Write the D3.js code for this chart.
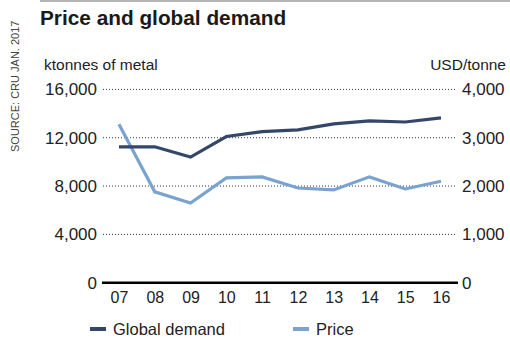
<!DOCTYPE html>
<html>
<head>
<meta charset="utf-8">
<script src="https://cdn.jsdelivr.net/npm/d3@7"></script>
<style>
  body { margin: 0; background: #fff; }
  svg { display: block; font-family: "Liberation Sans", Arial, sans-serif; }
</style>
</head>
<body>
<div id="container"></div>
<script>
const years = ['07', '08', '09', '10', '11', '12', '13', '14', '15', '16']
const demand = [11250, 11250, 10400, 12100, 12500, 12650, 13150, 13400, 13300, 13650]
const price = [3280, 1880, 1650, 2170, 2190, 1960, 1920, 2190, 1940, 2100]
const leftTicks = [0, 4000, 8000, 12000, 16000]
const rightTicks = [0, 1000, 2000, 3000, 4000]

const demandColor = '#34476a'
const priceColor = '#7aa3d0'

const width = 510
const height = 338

const svg = d3.select('#container')
    .append('svg')
    .attr('width', width)
    .attr('height', height)

const xScale = d3.scalePoint()
    .domain(years)
    .range([119, 441])

const yLeft = d3.scaleLinear()
    .domain([0, 16000])
    .range([282.7, 89.4])

const yRight = d3.scaleLinear()
    .domain([0, 4000])
    .range([282.7, 89.4])

const fmt = d3.format(',')

// top rule + title
svg.append('line')
    .attr('x1', 40).attr('x2', width)
    .attr('y1', 1).attr('y2', 1)
    .attr('stroke', '#b5b5b5')
    .attr('stroke-width', 2)

svg.append('text')
    .attr('x', 40)
    .attr('y', 25)
    .attr('font-size', 20.8)
    .attr('font-weight', 'bold')
    .attr('fill', '#1a1a1a')
    .text('Price and global demand')

// source, rotated
svg.append('text')
    .attr('transform', 'translate(19, 152) rotate(-90)')
    .attr('font-size', 11)
    .attr('fill', '#444')
    .text('SOURCE: CRU JAN. 2017')

// axis titles
svg.append('text')
    .attr('x', 44)
    .attr('y', 70)
    .attr('font-size', 15.5)
    .attr('fill', '#222')
    .text('ktonnes of metal')

svg.append('text')
    .attr('x', 506)
    .attr('y', 70)
    .attr('font-size', 15.5)
    .attr('text-anchor', 'end')
    .attr('fill', '#222')
    .text('USD/tonne')

// dotted gridlines
svg.append('g')
    .selectAll('line')
    .data(leftTicks.filter(d => d > 0))
    .join('line')
    .attr('x1', 103).attr('x2', 456)
    .attr('y1', d => yLeft(d)).attr('y2', d => yLeft(d))
    .attr('stroke', '#333')
    .attr('stroke-width', 1)
    .attr('stroke-dasharray', '1,2')

const styleTicks = g => g.selectAll('text')
    .attr('font-size', 17)
    .attr('font-family', '"Liberation Sans", Arial, sans-serif')
    .attr('fill', '#222')

// left axis
const leftAxis = d3.axisLeft(yLeft)
    .tickValues(leftTicks)
    .tickFormat(fmt)
    .tickSize(0)
    .tickPadding(0)
svg.append('g')
    .attr('transform', 'translate(97, 0)')
    .call(leftAxis)
    .call(g => g.select('.domain').remove())
    .call(styleTicks)

// right axis
const rightAxis = d3.axisRight(yRight)
    .tickValues(rightTicks)
    .tickFormat(fmt)
    .tickSize(0)
    .tickPadding(0)
svg.append('g')
    .attr('transform', 'translate(462, 0)')
    .call(rightAxis)
    .call(g => g.select('.domain').remove())
    .call(styleTicks)

// bottom axis
const xAxis = d3.axisBottom(xScale)
    .tickSize(0)
    .tickPadding(9)
svg.append('g')
    .attr('transform', `translate(0, ${yLeft(0)})`)
    .call(xAxis)
    .call(g => g.select('.domain').remove())
    .call(g => g.selectAll('text')
        .attr('font-size', 16)
        .attr('font-family', '"Liberation Sans", Arial, sans-serif')
        .attr('fill', '#222'))

svg.append('line')
    .attr('x1', 102).attr('x2', 458)
    .attr('y1', yLeft(0)).attr('y2', yLeft(0))
    .attr('stroke', '#000')
    .attr('stroke-width', 2.5)

// lines
const demandLine = d3.line()
    .x((d, i) => xScale(years[i]))
    .y(d => yLeft(d))

const priceLine = d3.line()
    .x((d, i) => xScale(years[i]))
    .y(d => yRight(d))

svg.append('path')
    .datum(price)
    .attr('d', priceLine)
    .attr('fill', 'none')
    .attr('stroke', priceColor)
    .attr('stroke-width', 3.2)

svg.append('path')
    .datum(demand)
    .attr('d', demandLine)
    .attr('fill', 'none')
    .attr('stroke', demandColor)
    .attr('stroke-width', 3.2)

// legend
const legendItems = [
    { name: 'Global demand', color: demandColor, x: 90 },
    { name: 'Price', color: priceColor, x: 293 }
]

const legend = svg.append('g')
    .selectAll('g')
    .data(legendItems)
    .join('g')
    .attr('transform', d => `translate(${d.x}, 327)`)

legend.append('rect')
    .attr('width', 16)
    .attr('height', 4)
    .attr('fill', d => d.color)

legend.append('text')
    .attr('x', 23)
    .attr('y', 7.5)
    .attr('font-size', 16.5)
    .attr('fill', '#222')
    .text(d => d.name)
</script>
</body>
</html>
